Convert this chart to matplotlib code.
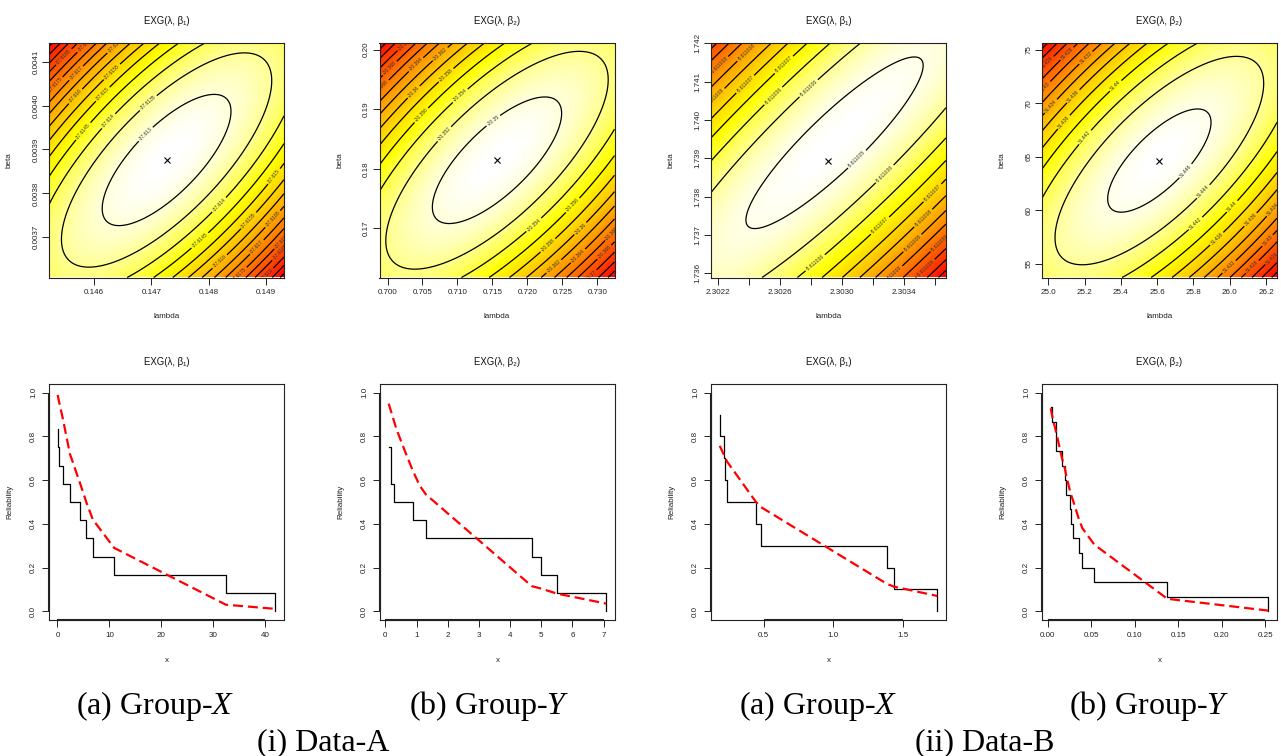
import numpy as np
import matplotlib
matplotlib.use("Agg")
import matplotlib.pyplot as plt
from matplotlib.colors import LinearSegmentedColormap

plt.rcParams['font.family'] = ['Liberation Sans', 'DejaVu Sans']
plt.rcParams['mathtext.fontset'] = 'custom'
plt.rcParams['mathtext.rm'] = 'Liberation Serif'
plt.rcParams['mathtext.it'] = 'Liberation Serif:italic'
plt.rcParams['contour.negative_linestyle'] = 'solid'

# ---------------- contour (log-likelihood) panels ----------------
titles = ["EXG(λ, β₁)", "EXG(λ, β₂)", "EXG(λ, β₁)", "EXG(λ, β₂)"]
mle_lambda = [0.147265, 0.71566, 2.302911, 25.612]
mle_beta = [0.003876, 0.18144, 1.738939, 64.66]
# location of the peak of the (approximate) likelihood surface
peak_lambda = [0.147265, 0.71566, 2.302951, 25.612]
peak_beta = [0.003876, 0.18144, 1.739405, 64.66]
lambda_range = [(0.145207, 0.14932), (0.69885, 0.73247), (2.302153, 2.303671), (24.965, 26.2606)]
beta_range = [(0.0036084, 0.0041425), (0.16175, 0.20113), (1.735887, 1.74201), (53.72, 75.66)]
loglik_max = [-37.6127, -20.34898, -5.61100485, 31.44665]
se_lambda = [0.0460, 0.2047, 1.045, 7.90]
se_beta = [0.00610, 0.2353, 4.09, 133.9]
corr = [0.74, 0.74, 0.90, 0.74]

levels_1 = [-37.6200, -37.6195, -37.6190, -37.6185, -37.6180, -37.6175, -37.6170, -37.6165,
            -37.6160, -37.6155, -37.6150, -37.6145, -37.6140, -37.6135, -37.6130]
levels_2 = [-20.376, -20.374, -20.372, -20.370, -20.368, -20.366, -20.364, -20.362,
            -20.360, -20.358, -20.356, -20.354, -20.352, -20.350]
levels_3 = [-5.6110120, -5.6110115, -5.6110110, -5.6110105, -5.6110100, -5.6110095,
            -5.6110090, -5.6110085, -5.6110080, -5.6110075, -5.6110070, -5.6110065,
            -5.6110060, -5.6110055, -5.6110050]
levels_4 = [31.418, 31.420, 31.422, 31.424, 31.426, 31.428, 31.430, 31.432, 31.434,
            31.436, 31.438, 31.440, 31.442, 31.444, 31.446]
levels_all = [levels_1, levels_2, levels_3, levels_4]

lam_ticks = [[0.146, 0.147, 0.148, 0.149],
             [0.700, 0.705, 0.710, 0.715, 0.720, 0.725, 0.730],
             [2.3022, 2.3024, 2.3026, 2.3028, 2.3030, 2.3032, 2.3034, 2.3036],
             [25.0, 25.2, 25.4, 25.6, 25.8, 26.0, 26.2]]
lam_labels = [["0.146", "0.147", "0.148", "0.149"],
              ["0.700", "0.705", "0.710", "0.715", "0.720", "0.725", "0.730"],
              ["2.3022", "", "2.3026", "", "2.3030", "", "2.3034", ""],
              ["25.0", "25.2", "25.4", "25.6", "25.8", "26.0", "26.2"]]
beta_ticks = [[0.0037, 0.0038, 0.0039, 0.0040, 0.0041],
              [0.17, 0.18, 0.19, 0.20],
              [1.736, 1.737, 1.738, 1.739, 1.740, 1.741, 1.742],
              [55, 60, 65, 70, 75]]
beta_labels = [["0.0037", "0.0038", "0.0039", "0.0040", "0.0041"],
               ["0.17", "0.18", "0.19", "0.20"],
               ["1.736", "1.737", "1.738", "1.739", "1.740", "1.741", "1.742"],
               ["55", "60", "65", "70", "75"]]

# ---------------- reliability panels ----------------
km_x = [[0.05, 0.05, 0.25, 1.05, 2.4, 4.43, 5.54, 6.8, 10.9, 32.4, 41.9],
        [0.106, 0.192, 0.192, 0.288, 0.889, 1.296, 4.695, 4.985, 5.50, 7.086],
        [0.183, 0.183, 0.214, 0.224, 0.236, 0.441, 0.479, 1.388, 1.436, 1.75],
        [0.0034, 0.0053, 0.0099, 0.0099, 0.0164, 0.0199, 0.0210, 0.0256, 0.0268,
         0.0287, 0.0360, 0.0398, 0.0535, 0.1374, 0.2534]]
km_s = [[0.833, 0.75, 0.667, 0.583, 0.5, 0.417, 0.333, 0.25, 0.167, 0.083, 0.0],
        [0.75, 0.667, 0.583, 0.5, 0.417, 0.333, 0.25, 0.167, 0.083, 0.0],
        [0.9, 0.8, 0.7, 0.6, 0.5, 0.4, 0.3, 0.2, 0.1, 0.0],
        [0.933, 0.867, 0.8, 0.733, 0.667, 0.6, 0.533, 0.467, 0.4, 0.333, 0.267,
         0.2, 0.133, 0.067, 0.0]]
fit_x = [[0.05, 0.25, 1.05, 2.4, 4.43, 5.54, 6.8, 10.9, 32.4, 41.9],
         [0.106, 0.35, 0.62, 0.889, 1.10, 1.296, 4.695, 4.985, 5.50, 7.086],
         [0.183, 0.214, 0.224, 0.236, 0.441, 0.479, 1.388, 1.436, 1.75],
         [0.0034, 0.0053, 0.0099, 0.0164, 0.0199, 0.0210, 0.0256, 0.0268, 0.0287,
          0.0360, 0.0398, 0.0535, 0.1374, 0.2534]]
fit_r = [[0.99, 0.965, 0.88, 0.72, 0.58, 0.50, 0.42, 0.29, 0.03, 0.011],
         [0.95, 0.835, 0.735, 0.64, 0.575, 0.535, 0.115, 0.104, 0.081, 0.035],
         [0.757, 0.715, 0.70, 0.685, 0.503, 0.477, 0.125, 0.113, 0.07],
         [0.929, 0.89, 0.815, 0.70, 0.65, 0.625, 0.55, 0.534, 0.511, 0.419, 0.38,
          0.305, 0.057, 0.003]]
x_ticks = [[0, 10, 20, 30, 40],
           [0, 1, 2, 3, 4, 5, 6, 7],
           [0.5, 1.0, 1.5],
           [0.00, 0.05, 0.10, 0.15, 0.20, 0.25]]
x_labels = [["0", "10", "20", "30", "40"],
            ["0", "1", "2", "3", "4", "5", "6", "7"],
            ["0.5", "1.0", "1.5"],
            ["0.00", "0.05", "0.10", "0.15", "0.20", "0.25"]]
r_ticks = [0.0, 0.2, 0.4, 0.6, 0.8, 1.0]
r_labels = ["0.0", "0.2", "0.4", "0.6", "0.8", "1.0"]

captions = [r"(a) Group-$X$", r"(b) Group-$Y$", r"(a) Group-$X$", r"(b) Group-$Y$"]
group_captions = ["(i) Data-A", "(ii) Data-B"]

# ---------------- figure ----------------
W, H = 1281, 756
fig = plt.figure(figsize=(W / 100, H / 100), dpi=100)
heat = LinearSegmentedColormap.from_list(
    "heat", [(0.0, "#FF0000"), (0.75, "#FFFF00"), (1.0, "#FFFFFF")])

lefts_top = [49, 379.5, 711, 1042]
lefts_bot = [49, 380, 711, 1042]
AW = 235
TS = 5.8      # tick / label size
MS = 6.9      # title size


def px_axes(left, top, w, h):
    return fig.add_axes([left / W, 1 - (top + h) / H, w / W, h / H])


def style_axes(ax):
    for s in ax.spines.values():
        s.set_linewidth(0.8)
        s.set_color("#222222")
    ax.tick_params(axis='both', direction='out', length=5.2, width=0.7,
                   color="#222222", labelsize=TS, labelcolor="#222222")
    ax.tick_params(axis='x', pad=3.2)
    ax.tick_params(axis='y', pad=1.8)
    for lab in ax.get_yticklabels():
        lab.set_rotation(90)
        lab.set_va('center')


for i in range(4):
    ax = px_axes(lefts_top[i], 43, AW, 234.5)
    lam = np.linspace(lambda_range[i][0], lambda_range[i][1], 400)
    bet = np.linspace(beta_range[i][0], beta_range[i][1], 400)
    LL, BB = np.meshgrid(lam, bet)
    a = (LL - peak_lambda[i]) / se_lambda[i]
    b = (BB - peak_beta[i]) / se_beta[i]
    r = corr[i]
    Z = loglik_max[i] - 0.5 * (a * a - 2 * r * a * b + b * b) / (1 - r * r)
    ax.imshow(Z - Z.max(), extent=[lam[0], lam[-1], bet[0], bet[-1]], origin='lower',
              aspect='auto', cmap=heat, interpolation='bilinear')
    cs = ax.contour(LL, BB, Z, levels=levels_all[i], colors='black', linewidths=0.9,
                    linestyles='solid')
    ax.clabel(cs, fmt=lambda v: f"{v:.7g}", fontsize=3.6, inline=True,
              inline_spacing=1.5, colors='#333333')
    ax.plot([mle_lambda[i]], [mle_beta[i]], marker='x', color='black', ms=4.2,
            mew=0.8, ls='none')
    ax.set_xlim(lambda_range[i])
    ax.set_ylim(beta_range[i])
    ax.set_xticks(lam_ticks[i])
    ax.set_xticklabels(lam_labels[i])
    ax.set_yticks(beta_ticks[i])
    ax.set_yticklabels(beta_labels[i])
    style_axes(ax)
    ax.set_title(titles[i], fontsize=MS, pad=14, color="#111111")
    ax.set_xlabel("lambda", fontsize=TS, color="#222222")
    ax.set_ylabel("beta", fontsize=TS, color="#222222")
    ax.xaxis.set_label_coords(0.5, -35.5 / 234.5)
    ax.yaxis.set_label_coords(-36 / AW, 0.5)

for i in range(4):
    ax = px_axes(lefts_bot[i], 384, AW, 236)
    ax.plot(km_x[i], km_s[i], drawstyle='steps-post', color='black', lw=0.9)
    ax.plot(fit_x[i], fit_r[i], color='#FF0000', lw=1.6, dashes=(4.5, 2.2))
    lo = min(min(km_x[i]), min(fit_x[i]))
    hi = max(max(km_x[i]), max(fit_x[i]))
    ext = 0.04 * (hi - lo)
    ax.set_xlim(lo - ext, hi + ext)
    ax.set_ylim(-0.04, 1.04)
    ax.set_xticks(x_ticks[i])
    ax.set_xticklabels(x_labels[i])
    ax.set_yticks(r_ticks)
    ax.set_yticklabels(r_labels)
    style_axes(ax)
    ax.tick_params(axis='y', pad=3.5)
    # R-style axis lines running from first to last tick
    ax.plot([x_ticks[i][0], x_ticks[i][-1]], [-0.04, -0.04], color='#222222', lw=1.5,
            clip_on=False, solid_capstyle='butt')
    ax.plot([lo - ext, lo - ext], [0.0, 1.0], color='#222222', lw=1.5,
            clip_on=False, solid_capstyle='butt')
    ax.set_title(titles[i], fontsize=MS, pad=14, color="#111111")
    ax.set_xlabel("x", fontsize=TS, color="#222222")
    ax.set_ylabel("Reliability", fontsize=TS, color="#222222")
    ax.xaxis.set_label_coords(0.5, -36.7 / 236)
    ax.yaxis.set_label_coords(-36 / AW, 0.5)

cap_x = [155, 489, 818, 1149]
for i in range(4):
    fig.text(cap_x[i] / W, 1 - 706 / H, captions[i], ha='center', va='center',
             fontsize=23, family='Liberation Serif')
grp_x = [323, 985]
for i in range(2):
    fig.text(grp_x[i] / W, 1 - 743 / H, group_captions[i], ha='center', va='center',
             fontsize=23, family='Liberation Serif')

fig.savefig("out.png", dpi=100)
